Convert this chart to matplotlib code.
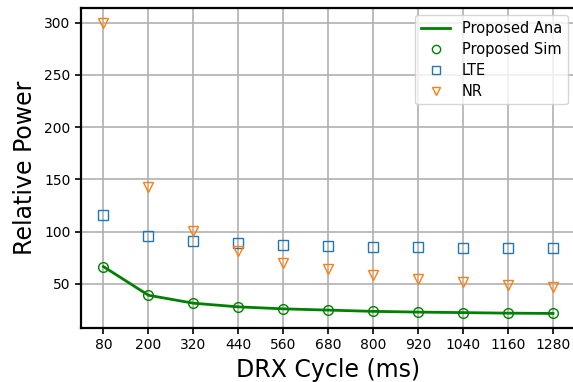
import numpy as np
import matplotlib
matplotlib.use("Agg")
import matplotlib.pyplot as plt

# DRX cycle lengths (ms) and relative power per scheme
drx_cycle = [80, 200, 320, 440, 560, 680, 800, 920, 1040, 1160, 1280]
proposed_ana = [66.6, 39.2, 31.6, 28.1, 26.2, 25.0, 23.8, 23.1, 22.6, 22.1, 21.8]
proposed_sim = [66.6, 39.2, 31.6, 28.1, 26.2, 25.0, 23.7, 23.0, 22.7, 22.1, 21.8]
lte = [116.0, 96.1, 91.0, 88.8, 87.2, 85.9, 85.6, 85.2, 84.7, 84.3, 84.0]
nr = [300.0, 142.6, 100.2, 81.6, 70.4, 64.0, 58.3, 54.8, 52.3, 49.0, 46.9]

fig = plt.figure(figsize=(5.73, 3.82), dpi=100)
ax = fig.add_axes([81 / 573, 54 / 382, 494.5 / 573, 320 / 382])

ax.plot(drx_cycle, proposed_ana, color="green", linewidth=2, label="Proposed Ana")
ax.plot(drx_cycle, proposed_sim, linestyle="none", marker="o", markersize=7,
        markerfacecolor="none", markeredgecolor="green", label="Proposed Sim")
ax.plot(drx_cycle, lte, linestyle="none", marker="s", markersize=7,
        markerfacecolor="none", markeredgecolor="C0", label="LTE")
ax.plot(drx_cycle, nr, linestyle="none", marker="v", markersize=7,
        markerfacecolor="none", markeredgecolor="C1", label="NR")

ax.set_xticks(drx_cycle)
ax.set_xticklabels([str(v) for v in drx_cycle])
ax.tick_params(labelsize=10, width=1.2, length=4)
ax.set_xlabel("DRX Cycle (ms)", fontsize=17)
ax.set_ylabel("Relative Power", fontsize=17, labelpad=5)
ax.grid(True, color="#b0b0b0", linewidth=1.2)
for s in ax.spines.values():
    s.set_linewidth(1.6)

ax.legend(loc="upper right", fontsize=10.5, markerscale=0.85, labelspacing=0.4)

fig.savefig("out.png", dpi=100)
